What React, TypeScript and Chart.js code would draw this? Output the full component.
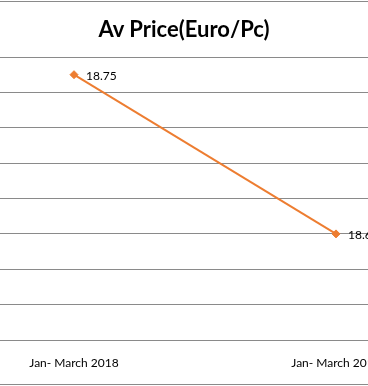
import React, { useEffect, useRef } from "react";
import { Chart, registerables } from "chart.js";

Chart.register(...registerables);

const title = "Av Price(Euro/Pc)";
const categories = ["Jan- March 2018", "Jan- March 2019"];
const avPrice = [18.75, 18.66];
const yMin = 18.6;
const yMax = 18.76;
const yStep = 0.02;

const FONT = "Lato, 'Open Sans', sans-serif";

const valueLabels = {
  id: "valueLabels",
  afterDatasetsDraw(chart: any) {
    const ctx = chart.ctx;
    const meta = chart.getDatasetMeta(0);
    ctx.save();
    ctx.font = `12px ${FONT}`;
    ctx.fillStyle = "#000";
    ctx.textAlign = "left";
    ctx.textBaseline = "middle";
    meta.data.forEach((pt: any, i: number) => {
      const v = chart.data.datasets[0].data[i];
      ctx.fillText(Number(v).toFixed(2), pt.x + 12, pt.y + 1);
    });
    ctx.restore();
  },
};

export default function App() {
  const ref = useRef<HTMLCanvasElement>(null);
  useEffect(() => {
    document.body.style.margin = "0";
    const chart = new Chart(ref.current!, {
      type: "line",
      data: {
        labels: categories,
        datasets: [
          {
            data: avPrice,
            borderColor: "#ED7D31",
            backgroundColor: "#ED7D31",
            borderWidth: 2,
            pointStyle: "rectRot",
            pointRadius: 4,
            pointBorderWidth: 1,
            tension: 0,
          },
        ],
      },
      options: {
        animation: false,
        responsive: false,
        maintainAspectRatio: false,
        layout: { autoPadding: false, padding: { top: 57, bottom: 0, left: 0, right: 0 } },
        plugins: {
          legend: { display: false },
          title: { display: false },
          tooltip: { enabled: false },
        },
        scales: {
          x: {
            offset: true,
            grid: { display: false, drawTicks: false },
            border: { display: false },
            ticks: {
              padding: 16,
              color: "#000",
              font: { family: FONT, size: 12 },
              maxRotation: 0,
            },
            afterFit: (s: any) => {
              s.height = 46;
            },
          },
          y: {
            min: yMin,
            max: yMax,
            ticks: { display: false, stepSize: yStep },
            grid: { color: "#8a8a8a", lineWidth: 1, drawTicks: false },
            border: { display: false },
            afterFit: (s: any) => {
              s.width = 0;
            },
          },
        },
      },
      plugins: [valueLabels],
    });
    return () => chart.destroy();
  }, []);

  return (
    <div
      style={{
        position: "relative",
        width: 368,
        height: 386,
        overflow: "hidden",
        background: "#fff",
      }}
    >
      <canvas
        ref={ref}
        width={524}
        height={386}
        style={{ position: "absolute", left: -57, top: 0, width: 524, height: 386 }}
      />
      <div
        style={{
          position: "absolute",
          top: 1,
          left: 0,
          width: 368,
          height: 1,
          background: "#8a8a8a",
        }}
      />
      <div
        style={{
          position: "absolute",
          top: 384,
          left: 0,
          width: 368,
          height: 1,
          background: "#8a8a8a",
        }}
      />
      <div
        style={{
          position: "absolute",
          top: 14,
          left: 0,
          width: 368,
          textAlign: "center",
          fontFamily: FONT,
          fontWeight: 700,
          fontSize: 22,
          lineHeight: "30px",
          color: "#000",
        }}
      >
        {title}
      </div>
    </div>
  );
}
